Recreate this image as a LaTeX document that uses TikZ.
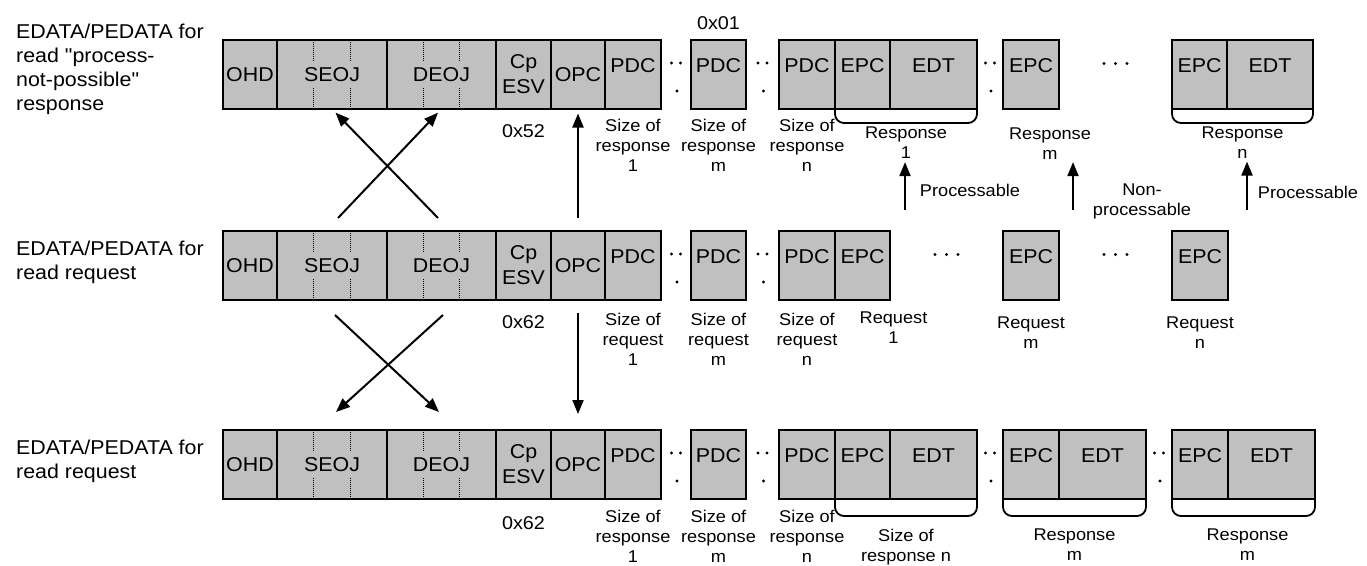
\documentclass[tikz,border=0pt]{standalone}
\usepackage{fontspec}
\setmainfont{Liberation Sans}[FakeStretch=1.07, Ligatures=TeXOff]
\usetikzlibrary{positioning,arrows.meta,calc}
\definecolor{boxgray}{HTML}{C0C0C0}

\begin{document}
\begin{tikzpicture}[
        x=1pt, y=-1pt,
        cell/.style={draw, line width=1.8pt, fill=boxgray, minimum height=69pt, inner sep=0pt, outer sep=0pt, align=center, font=\fontsize{20}{25}\selectfont},
        topcell/.style={cell, text height=15pt, text depth=19.7pt},
        eojcell/.style={cell, path picture={
            \foreach \f in {1/3, 2/3} {
                \draw[line width=1.1pt, dash pattern=on 1pt off 1pt] ($(path picture bounding box.north west)!\f!(path picture bounding box.north east)$) -- ++(0,22)
                    ($(path picture bounding box.south west)!\f!(path picture bounding box.south east)$) -- ++(0,-21);
            }}},
        side/.style={align=left, inner sep=0pt, font=\fontsize{20}{24}\selectfont},
        note/.style={align=center, inner sep=0pt, font=\fontsize{17}{20}\selectfont},
        hex/.style={inner sep=0pt, font=\fontsize{18.5}{22}\selectfont},
        arr/.style={line width=2pt, -{Triangle[length=14pt, width=11pt]}},
        brace/.style={line width=1.8pt, rounded corners=9pt},
        pics/gapdots/.style={code={\fill (-4.5,-11.5) circle (1.6pt) (4.5,-11.5) circle (1.6pt) (1,16.5) circle (1.6pt);}},
        pics/hdots/.style={code={\fill (-11.5,-11) circle (1.6pt) (0,-11) circle (1.6pt) (11.5,-11) circle (1.6pt);}}
    ]
        \path[use as bounding box, fill=white] (0,0) rectangle (1367,565);

        \node[side, anchor=west] (lblTop) at (16,69) {EDATA/PEDATA for\\read "process-\\not-possible"\\response};
        \node[cell, minimum width=54pt, anchor=north west] (ohdTop) at (223,40) {OHD};
        \node[eojcell, minimum width=110pt, right=0pt of ohdTop] (seojTop) {SEOJ};
        \node[eojcell, minimum width=109pt, right=0pt of seojTop] (deojTop) {DEOJ};
        \node[cell, minimum width=55pt, right=0pt of deojTop] (esvTop) {Cp\\ESV};
        \node[cell, minimum width=54pt, right=0pt of esvTop] (opcTop) {OPC};
        \node[topcell, minimum width=56pt, right=0pt of opcTop] (pdcTop1) {PDC};
        \node[topcell, minimum width=55pt, right=30pt of pdcTop1] (pdcTopm) {PDC};
        \node[topcell, minimum width=56pt, right=33pt of pdcTopm] (pdcTopn) {PDC};
        \node[topcell, minimum width=55pt, right=0pt of pdcTopn] (epcTop1) {EPC};
        \node[topcell, minimum width=87pt, right=0pt of epcTop1] (edtTop1) {EDT};
        \node[topcell, minimum width=56pt, right=26pt of edtTop1] (epcTopm) {EPC};
        \node[topcell, minimum width=55pt, anchor=north west] (epcTopn) at (1172,40) {EPC};
        \node[topcell, minimum width=86pt, right=0pt of epcTopn] (edtTopn) {EDT};

        \pic at ($(pdcTop1.east)!0.5!(pdcTopm.west)$) {gapdots};
        \pic at ($(pdcTopm.east)!0.5!(pdcTopn.west)$) {gapdots};
        \pic at ($(edtTop1.east)!0.5!(epcTopm.west)$) {gapdots};
        \pic at ($(epcTopm.east)!0.5!(epcTopn.west)$) {hdots};

        \node[hex, above=10pt of pdcTopm] (hexTopPdc) {0x01};
        \node[hex, below=15pt of esvTop] (hexTopEsv) {0x52};
        \node[note, below=10pt of pdcTop1] (szTop1) {Size of\\response\\1};
        \node[note, below=10pt of pdcTopm] (szTopm) {Size of\\response\\m};
        \node[note, below=10pt of pdcTopn] (szTopn) {Size of\\response\\n};
        \draw[brace] (epcTop1.south west) -- ++(0,14) -| (edtTop1.south east);
        \draw[brace] (epcTopn.south west) -- ++(0,14) -| (edtTopn.south east);
        \node[note, anchor=north] (resTop1) at ($(epcTop1.south west)!0.5!(edtTop1.south east)+(0,18)$) {Response\\1};
        \node[note, below=19pt of epcTopm, xshift=19pt] (resTopm) {Response\\m};
        \node[note, anchor=north] (resTopn) at ($(epcTopn.south west)!0.5!(edtTopn.south east)+(0,17.5)$) {Response\\n};

        \coordinate (okA) at (905,210);
        \coordinate (nokB) at (1073,210);
        \coordinate (okC) at (1247,210);
        \draw[arr, shorten >=3pt] (okA) -- (okA |- resTop1.south);
        \draw[arr, shorten >=2pt] (nokB) -- (nokB |- resTopm.south);
        \draw[arr, shorten >=3pt] (okC) -- (okC |- resTopn.south);
        \node[note] (procA) at (970,190) {Processable};
        \node[note] (nprocB) at (1142,201) {Non-\\processable};
        \node[note] (procC) at (1308,192) {Processable};

        \node[side, anchor=west] (lblMid) at (16,262) {EDATA/PEDATA for\\read request};
        \node[cell, minimum width=54pt, anchor=north west] (ohdMid) at (223,231) {OHD};
        \node[eojcell, minimum width=110pt, right=0pt of ohdMid] (seojMid) {SEOJ};
        \node[eojcell, minimum width=109pt, right=0pt of seojMid] (deojMid) {DEOJ};
        \node[cell, minimum width=55pt, right=0pt of deojMid] (esvMid) {Cp\\ESV};
        \node[cell, minimum width=54pt, right=0pt of esvMid] (opcMid) {OPC};
        \node[topcell, minimum width=56pt, right=0pt of opcMid] (pdcMid1) {PDC};
        \node[topcell, minimum width=55pt, right=30pt of pdcMid1] (pdcMidm) {PDC};
        \node[topcell, minimum width=56pt, right=33pt of pdcMidm] (pdcMidn) {PDC};
        \node[topcell, minimum width=55pt, right=0pt of pdcMidn] (epcMid1) {EPC};
        \node[topcell, minimum width=56pt, anchor=north west] (epcMidm) at (1003,231) {EPC};
        \node[topcell, minimum width=56pt, anchor=north west] (epcMidn) at (1172,231) {EPC};

        \pic at ($(pdcMid1.east)!0.5!(pdcMidm.west)$) {gapdots};
        \pic at ($(pdcMidm.east)!0.5!(pdcMidn.west)$) {gapdots};
        \pic at ($(epcMid1.east)!0.5!(epcMidm.west)$) {hdots};
        \pic at ($(epcMidm.east)!0.5!(epcMidn.west)$) {hdots};

        \node[hex, below=15pt of esvMid] (hexMidEsv) {0x62};
        \node[note, below=13pt of pdcMid1] (szMid1) {Size of\\request\\1};
        \node[note, below=13pt of pdcMidm] (szMidm) {Size of\\request\\m};
        \node[note, below=13pt of pdcMidn] (szMidn) {Size of\\request\\n};
        \node[note, below=12pt of epcMid1, xshift=31pt] (reqMid1) {Request\\1};
        \node[note, below=17pt of epcMidm] (reqMidm) {Request\\m};
        \node[note, below=17pt of epcMidn] (reqMidn) {Request\\n};

        \node[side, anchor=west] (lblBot) at (16,461) {EDATA/PEDATA for\\read request};
        \node[cell, minimum width=54pt, anchor=north west] (ohdBot) at (223,430) {OHD};
        \node[eojcell, minimum width=110pt, right=0pt of ohdBot] (seojBot) {SEOJ};
        \node[eojcell, minimum width=109pt, right=0pt of seojBot] (deojBot) {DEOJ};
        \node[cell, minimum width=55pt, right=0pt of deojBot] (esvBot) {Cp\\ESV};
        \node[cell, minimum width=54pt, right=0pt of esvBot] (opcBot) {OPC};
        \node[topcell, minimum width=56pt, right=0pt of opcBot] (pdcBot1) {PDC};
        \node[topcell, minimum width=55pt, right=30pt of pdcBot1] (pdcBotm) {PDC};
        \node[topcell, minimum width=56pt, right=33pt of pdcBotm] (pdcBotn) {PDC};
        \node[topcell, minimum width=55pt, right=0pt of pdcBotn] (epcBot1) {EPC};
        \node[topcell, minimum width=87pt, right=0pt of epcBot1] (edtBot1) {EDT};
        \node[topcell, minimum width=56pt, right=26pt of edtBot1] (epcBotm) {EPC};
        \node[topcell, minimum width=87pt, right=0pt of epcBotm] (edtBotm) {EDT};
        \node[topcell, minimum width=56pt, right=26pt of edtBotm] (epcBotn) {EPC};
        \node[topcell, minimum width=87pt, right=0pt of epcBotn] (edtBotn) {EDT};

        \pic at ($(pdcBot1.east)!0.5!(pdcBotm.west)$) {gapdots};
        \pic at ($(pdcBotm.east)!0.5!(pdcBotn.west)$) {gapdots};
        \pic at ($(edtBot1.east)!0.5!(epcBotm.west)$) {gapdots};
        \pic at ($(edtBotm.east)!0.5!(epcBotn.west)$) {gapdots};

        \node[hex, below=17pt of esvBot] (hexBotEsv) {0x62};
        \node[note, below=11pt of pdcBot1] (szBot1) {Size of\\response\\1};
        \node[note, below=11pt of pdcBotm] (szBotm) {Size of\\response\\m};
        \node[note, below=11pt of pdcBotn] (szBotn) {Size of\\response\\n};
        \draw[brace] (epcBot1.south west) -- ++(0,17) -| (edtBot1.south east);
        \draw[brace] (epcBotm.south west) -- ++(0,17) -| (edtBotm.south east);
        \draw[brace] (epcBotn.south west) -- ++(0,17) -| (edtBotn.south east);
        \node[note, anchor=north] (sizeBotn) at ($(epcBot1.south west)!0.5!(edtBot1.south east)+(0,30)$) {Size of\\response n};
        \node[note, anchor=north] (resBotm) at ($(epcBotm.south west)!0.5!(edtBotm.south east)+(0,30)$) {Response\\m};
        \node[note, anchor=north] (resBotn) at ($(epcBotn.south west)!0.5!(edtBotn.south east)+(4,30)$) {Response\\m};

        \coordinate (xTopL) at (338,218);
        \coordinate (xTopR) at (438,218);
        \coordinate (xBotL) at (335,315);
        \coordinate (xBotR) at (443,315);
        \coordinate (tipBotL) at (336,412);
        \coordinate (tipBotR) at (439,412);
        \draw[arr, shorten >=5pt] (xTopR) -- (seojTop.south);
        \draw[arr, shorten >=5pt] (xTopL) -- (deojTop.south);
        \draw[arr, shorten <=13pt, shorten >=4.5pt] (opcMid.north) -- (opcTop.south);
        \draw[arr] (xBotL) -- (tipBotR);
        \draw[arr] (xBotR) -- (tipBotL);
        \draw[arr, shorten <=13pt, shorten >=16pt] (opcMid.south) -- (opcBot.north);
    \end{tikzpicture}
\end{document}
